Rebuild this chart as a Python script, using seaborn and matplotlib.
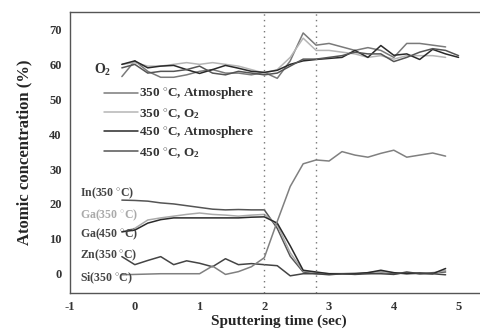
import numpy as np
import pandas as pd
import matplotlib
matplotlib.use('Agg')
import matplotlib.pyplot as plt
import seaborn as sns

# oxygen profiles
t_o2 = [-0.2, 0, 0.2, 0.4, 0.6, 0.8, 1.0, 1.2, 1.4, 1.6, 1.8, 2.0, 2.2, 2.4,
        2.6, 2.8, 3.0, 3.2, 3.4, 3.6, 3.8, 4.0, 4.2, 4.4, 4.6, 4.8, 5.0]
o2_350_atm = [56.5, 61, 58, 56.3, 56.3, 57, 58, 58.5, 57.5, 57.5, 57, 57.7, 56, 61,
              69, 65.5, 66, 65, 64, 64.8, 64, 62, 66, 66, 65.5, 65, np.nan]
o2_350_o2 = [60, 60.5, 59.5, 59.5, 60, 60.5, 60, 60.5, 60, 59.5, 58.5, 57.5, 58.5, 62,
             67.5, 64, 64, 63.5, 63, 62, 62.5, 61.5, 62.5, 62.5, 62.5, 62, np.nan]
o2_450_atm = [60, 61, 59, 59.5, 59.7, 58.5, 57.4, 58.5, 59.7, 58.9, 58, 57.7, 58.3, 60,
              61, 61.4, 61.7, 62, 64, 62, 65.4, 62.6, 63, 61.4, 64.3, 63, 62]
o2_450_o2 = [59, 60, 57.5, 58, 58, 58.5, 59.5, 57.5, 57, 58, 57.5, 57, 57.5, 59.5,
             61.5, 61.5, 62, 62.5, 63.5, 63, 63, 60.8, 62, 63.5, 64.5, 64, 62.5]

# metal / substrate profiles
t_m = [-0.2, 0, 0.2, 0.4, 0.6, 0.8, 1.0, 1.2, 1.4, 1.6, 1.8, 2.0, 2.2, 2.4,
       2.6, 2.8, 3.0, 3.2, 3.4, 3.6, 3.8, 4.0, 4.2, 4.4, 4.6, 4.8]
in_350 = [21.1, 21, 20.8, 20.3, 20, 19.5, 19, 18.5, 18.3, 18.4, 18.3, 18.3, 13, 5,
          0.5, 0, 0, 0, 0, 0.3, 0.5, 0, 0.2, 0, 0.3, 0.5]
ga_350 = [12, 13, 15.4, 16, 16.5, 17, 17.4, 17, 16.8, 16.5, 16.8, 17, 14, 6,
          0.8, 0.3, 0, 0, 0.2, 0, 0.5, 0.3, 0, 0.2, 0, 1]
ga_450 = [12, 12.5, 14.5, 15.5, 16, 16, 16, 16, 16, 16, 16.2, 16.3, 14.5, 8,
          1, 0.5, 0, 0, 0, 0.3, 1, 0.3, 0, 0.2, 0, 1.5]
zn_350 = [4.9, 2.6, 3.8, 4.9, 2.6, 3.7, 3, 2, 4.3, 2.6, 2.9, 2.6, 2.3, -0.6,
          0, 0, -0.3, 0, -0.2, 0, 0, -0.2, 0.5, 0, 0, -0.3]
si_350 = [-0.3, -0.2, -0.1, 0, 0, 0, 0, 2.2, -0.2, 0.6, 2, 4.6, 15, 25,
          31.5, 32.6, 32.3, 35, 34, 33.4, 34.5, 35.4, 33.4, 34, 34.6, 33.7]

o2_labels = ['350 $^{\\circ}$C, Atmosphere', '350 $^{\\circ}$C, O$_2$',
             '450 $^{\\circ}$C, Atmosphere', '450 $^{\\circ}$C, O$_2$']
metal_labels = ['In(350 $^{\\circ}$C)', 'Ga(350 $^{\\circ}$C)', 'Ga(450 $^{\\circ}$C)',
                'Zn(350 $^{\\circ}$C)', 'Si(350 $^{\\circ}$C)']
interfaces = [2.0, 2.8]

sns.set_style('white')
plt.rcParams['font.family'] = ['Liberation Serif', 'DejaVu Serif']
plt.rcParams['font.weight'] = 'bold'
plt.rcParams['axes.unicode_minus'] = False
plt.rcParams['mathtext.fontset'] = 'custom'
plt.rcParams['mathtext.rm'] = 'Liberation Serif:bold'
plt.rcParams['mathtext.it'] = 'Liberation Serif:bold'

fig = plt.figure(figsize=(4.8, 3.34), dpi=100)
ax = fig.add_axes([0.146, 0.123, 0.87, 0.841])

o2_colors = ['#7a7a7a', '#b5b5b5', '#2a2a2a', '#555555']
for vals, lab, c in zip([o2_350_atm, o2_350_o2, o2_450_atm, o2_450_o2], o2_labels, o2_colors):
    sns.lineplot(x=t_o2, y=vals, color=c, lw=1.1, label=lab, ax=ax)

m_colors = ['#555555', '#aaaaaa', '#2a2a2a', '#444444', '#808080']
for vals, c in zip([in_350, ga_350, ga_450, zn_350, si_350], m_colors):
    sns.lineplot(x=t_m, y=vals, color=c, lw=1.1, ax=ax)

for xv in interfaces:
    ax.axvline(xv, color='#777777', ls=(0, (1, 3)), lw=1.0)

ax.set_xlim(-1, 5.45)
ax.set_ylim(-5.5, 75)
ax.set_xticks([-1, 0, 1, 2, 3, 4, 5])
ax.set_yticks([0, 10, 20, 30, 40, 50, 60, 70])
ax.set_xticks(np.arange(-0.5, 5.5, 1), minor=True)
ax.set_yticks(np.arange(-5, 75, 10), minor=True)
ax.tick_params(direction='in', length=3, width=0.8, labelsize=9, colors='#333333', pad=6)
ax.tick_params(which='minor', direction='in', length=2, width=0.6)
ax.spines['right'].set_visible(False)
for s in ['left', 'bottom', 'top']:
    ax.spines[s].set_color('#555555')
    ax.spines[s].set_linewidth(1.0)

ax.set_xlabel('Sputtering time (sec)', fontsize=11, fontweight='bold', labelpad=1)
ax.set_ylabel('Atomic concentration (%)', fontsize=12, fontweight='bold', labelpad=12)

leg = ax.legend(loc='upper left', bbox_to_anchor=(0.065, 0.76), frameon=False, fontsize=9.5,
                handlelength=2.6, handletextpad=0.1, labelspacing=0.3, borderpad=0)
for txt in leg.get_texts():
    txt.set_color('#333333')

ax.text(-0.5, 58.5, 'O$_2$', fontsize=10, color='#333333', ha='center', va='center')

label_y = [23, 16.8, 11.3, 5.3, -1.4]
label_c = ['#444444', '#aaaaaa', '#444444', '#444444', '#444444']
for lab, yv, c in zip(metal_labels, label_y, label_c):
    ax.text(-0.85, yv, lab, fontsize=8.5, color=c, ha='left', va='center')

fig.savefig('out.png', dpi=100)
